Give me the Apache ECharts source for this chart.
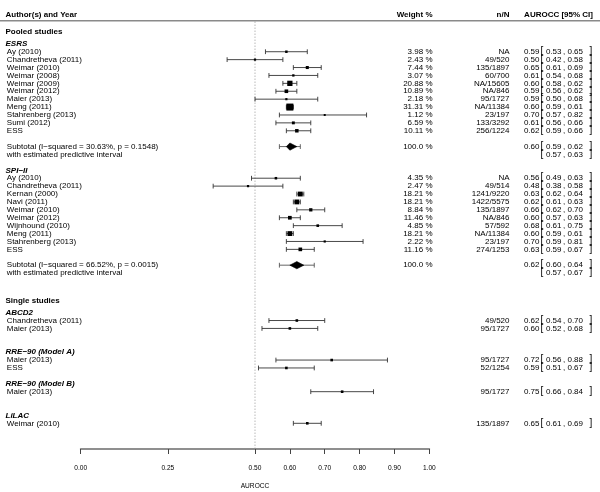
<!DOCTYPE html>
<html><head><meta charset="utf-8">
<script src="https://cdn.jsdelivr.net/npm/echarts@6/dist/echarts.min.js"></script>
<style>html,body{margin:0;padding:0;background:#fff}#c{width:600px;height:492px}</style>
</head><body><div id="c"></div>
<script>
// ---------------- DATA ----------------
const columnHeaders = ['Author(s) and Year', 'Weight %', 'n/N', 'AUROCC [95% CI]'];
const sectionLabels = ['Pooled studies', 'Single studies'];
const tickValues = [0, 0.25, 0.5, 0.6, 0.7, 0.8, 0.9, 1.0];
const axisTitle = 'AUROCC';

const esrsStudies = ['Ay (2010)', 'Chandretheva (2011)', 'Weimar (2010)', 'Weimar (2008)', 'Weimar (2009)', 'Weimar (2012)', 'Maier (2013)', 'Meng (2011)', 'Stahrenberg (2013)', 'Sumi (2012)', 'ESS'];
const esrsWeight = [3.98, 2.43, 7.44, 3.07, 20.88, 10.89, 2.18, 31.31, 1.12, 6.59, 10.11];
const esrsN = ['NA', '49/520', '135/1897', '60/700', 'NA/15605', 'NA/846', '95/1727', 'NA/11384', '23/197', '133/3292', '256/1224'];
const esrsEst = [0.59, 0.50, 0.65, 0.61, 0.60, 0.59, 0.59, 0.60, 0.70, 0.61, 0.62];
const esrsLo = [0.53, 0.42, 0.61, 0.54, 0.58, 0.56, 0.50, 0.59, 0.57, 0.56, 0.59];
const esrsHi = [0.65, 0.58, 0.69, 0.68, 0.62, 0.62, 0.68, 0.61, 0.82, 0.66, 0.66];
const esrsPooled = [0.60, 0.59, 0.62, 0.57, 0.63]; // est, lo, hi, PI lo, PI hi
const esrsHet = ['30.63%', '0.1548'];

const spiStudies = ['Ay (2010)', 'Chandretheva (2011)', 'Kernan (2000)', 'Navi (2011)', 'Weimar (2010)', 'Weimar (2012)', 'Wijnhound (2010)', 'Meng (2011)', 'Stahrenberg (2013)', 'ESS'];
const spiWeight = [4.35, 2.47, 18.21, 18.21, 8.84, 11.46, 4.85, 18.21, 2.22, 11.16];
const spiN = ['NA', '49/514', '1241/9220', '1422/5575', '135/1897', 'NA/846', '57/592', 'NA/11384', '23/197', '274/1253'];
const spiEst = [0.56, 0.48, 0.63, 0.62, 0.66, 0.60, 0.68, 0.60, 0.70, 0.63];
const spiLo = [0.49, 0.38, 0.62, 0.61, 0.62, 0.57, 0.61, 0.59, 0.59, 0.59];
const spiHi = [0.63, 0.58, 0.64, 0.63, 0.70, 0.63, 0.75, 0.61, 0.81, 0.67];
const spiPooled = [0.62, 0.60, 0.64, 0.57, 0.67];
const spiHet = ['66.52%', '0.0015'];

const singleGroups = ['ABCD2', 'RRE\u221290 (Model A)', 'RRE\u221290 (Model B)', 'LiLAC'];
const singleGroupOf = [0, 0, 1, 1, 2, 3];
const singleStudies = ['Chandretheva (2011)', 'Maier (2013)', 'Maier (2013)', 'ESS', 'Maier (2013)', 'Weimar (2010)'];
const singleN = ['49/520', '95/1727', '95/1727', '52/1254', '95/1727', '135/1897'];
const singleEst = [0.62, 0.60, 0.72, 0.59, 0.75, 0.65];
const singleLo = [0.54, 0.52, 0.56, 0.51, 0.66, 0.61];
const singleHi = [0.70, 0.68, 0.88, 0.67, 0.84, 0.69];

// ---------------- LAYOUT ----------------
const FONT = '"Liberation Sans", Arial, Helvetica, sans-serif';
const INK = '#000';
const rows = [];
rows.push({kind: 'colhead', row: 52.65});
rows.push({kind: 'section', row: 50.5, label: sectionLabels[0]});

function addPooled(start, name, studies, weight, nN, est, lo, hi, pooled, het) {
  let r = start;
  rows.push({kind: 'group', row: r, label: name});
  r -= 1;
  studies.forEach((s, i) => {
    rows.push({kind: 'study', row: r, label: s, w: weight[i], n: nN[i], est: est[i], lo: lo[i], hi: hi[i]});
    r -= 1;
  });
  r -= 1;
  rows.push({kind: 'subtotal', row: r, label: 'Subtotal (I\u2212squared = ' + het[0] + ', p = ' + het[1] + ')',
    est: pooled[0], lo: pooled[1], hi: pooled[2], piLo: pooled[3], piHi: pooled[4]});
  rows.push({kind: 'subtotal2', row: r - 1, label: 'with estimated predictive interval', lo: pooled[3], hi: pooled[4]});
  return r - 1;
}
let next = addPooled(49, 'ESRS', esrsStudies, esrsWeight, esrsN, esrsEst, esrsLo, esrsHi, esrsPooled, esrsHet);
next = addPooled(next - 2, 'SPI\u2212II', spiStudies, spiWeight, spiN, spiEst, spiLo, spiHi, spiPooled, spiHet);
rows.push({kind: 'section', row: next - 3.5, label: sectionLabels[1]});
let rr = next - 5;
const gapsAfter = [2, 1, 2, 0];
singleGroups.forEach((g, gi) => {
  rows.push({kind: 'group', row: rr, label: g});
  rr -= 1;
  singleStudies.forEach((s, i) => {
    if (singleGroupOf[i] === gi) {
      rows.push({kind: 'study', row: rr, label: s, w: null, n: singleN[i], est: singleEst[i], lo: singleLo[i], hi: singleHi[i]});
      rr -= 1;
    }
  });
  rr -= gapsAfter[gi];
});

const allW = esrsWeight.concat(spiWeight);
const wMin = Math.min(...allW), wMax = Math.max(...allW);
const sqSize = w => w == null ? 2.6 : 2 + 5 * (w - wMin) / (wMax - wMin);

function txt(x, y, text, o) {
  o = o || {};
  return {type: 'text', silent: true, style: {
    x: x, y: y, text: text, fill: o.fill || INK,
    fontFamily: FONT, fontSize: o.size || 8, fontWeight: o.weight || 'normal', fontStyle: o.style || 'normal',
    align: o.align || 'left', verticalAlign: 'middle'}};
}
function ciLine(api, lo, hi, row, color) {
  const a = api.coord([lo, row]), b = api.coord([hi, row]);
  const st = {stroke: color, lineWidth: 0.9};
  return [
    {type: 'line', shape: {x1: a[0], y1: a[1], x2: b[0], y2: b[1]}, style: st},
    {type: 'line', shape: {x1: a[0], y1: a[1] - 2.4, x2: a[0], y2: a[1] + 2.4}, style: st},
    {type: 'line', shape: {x1: b[0], y1: b[1] - 2.4, x2: b[0], y2: b[1] + 2.4}, style: st}
  ];
}
function ciText(y, est, lo, hi) {
  const out = [];
  if (est != null) out.push(txt(539.5, y, est.toFixed(2), {align: 'right'}));
  out.push(txt(540.5, y - 0.5, '[', {size: 10}));
  out.push(txt(561.5, y, lo.toFixed(2), {align: 'right'}));
  out.push(txt(563, y, ',', {}));
  out.push(txt(583, y, hi.toFixed(2), {align: 'right'}));
  out.push(txt(589.5, y - 0.5, ']', {size: 10}));
  return out;
}

function renderItem(params, api) {
  const rw = rows[api.value(2)];
  const y = api.coord([0, rw.row])[1];
  const ch = [];
  if (rw.kind === 'colhead') {
    ch.push(txt(5.5, y, columnHeaders[0], {weight: 'bold'}));
    ch.push(txt(432.5, y, columnHeaders[1], {weight: 'bold', align: 'right'}));
    ch.push(txt(509.5, y, columnHeaders[2], {weight: 'bold', align: 'right'}));
    ch.push(txt(593, y, columnHeaders[3], {weight: 'bold', align: 'right'}));
    const hl = api.coord([0, 51.92])[1];
    ch.push({type: 'line', shape: {x1: 0, y1: hl, x2: api.getWidth(), y2: hl}, style: {stroke: '#8a8a8a', lineWidth: 1.4}});
    const t = api.coord([0.5, 51.8]), b = api.coord([0.5, -2.25]);
    ch.push({type: 'line', shape: {x1: t[0], y1: t[1], x2: b[0], y2: b[1]}, style: {stroke: '#8a8a8a', lineWidth: 0.9, lineDash: [1, 2]}});
  } else if (rw.kind === 'section') {
    ch.push(txt(5.5, y, rw.label, {weight: 'bold'}));
  } else if (rw.kind === 'group') {
    ch.push(txt(5.5, y, rw.label, {weight: 'bold', style: 'italic'}));
  } else if (rw.kind === 'study') {
    ch.push(txt(6.8, y, rw.label));
    ch.push(...ciLine(api, rw.lo, rw.hi, rw.row, '#333'));
    const c = api.coord([rw.est, rw.row]);
    const s = sqSize(rw.w);
    ch.push({type: 'rect', shape: {x: c[0] - s / 2, y: c[1] - s / 2, width: s, height: s}, style: {fill: '#000'}});
    if (rw.w != null) ch.push(txt(432.5, y, rw.w.toFixed(2) + ' %', {align: 'right'}));
    ch.push(txt(509.5, y, rw.n, {align: 'right'}));
    ch.push(...ciText(y, rw.est, rw.lo, rw.hi));
  } else if (rw.kind === 'subtotal') {
    ch.push(txt(6.8, y, rw.label));
    ch.push(...ciLine(api, rw.piLo, rw.piHi, rw.row, '#555'));
    const l = api.coord([rw.lo, rw.row]), m = api.coord([rw.est, rw.row]), h = api.coord([rw.hi, rw.row]);
    ch.push({type: 'polygon', shape: {points: [[l[0], l[1]], [m[0], m[1] - 3.6], [h[0], h[1]], [m[0], m[1] + 3.6]]}, style: {fill: '#000', stroke: '#000', lineWidth: 0.6}});
    ch.push(txt(432.5, y, '100.0 %', {align: 'right'}));
    ch.push(...ciText(y, rw.est, rw.lo, rw.hi));
  } else if (rw.kind === 'subtotal2') {
    ch.push(txt(6.8, y, rw.label));
    ch.push(...ciText(y, null, rw.lo, rw.hi));
  }
  return {type: 'group', children: ch};
}

const chart = echarts.init(document.getElementById('c'), null, {renderer: 'canvas'});
chart.setOption({
  animation: false,
  backgroundColor: '#fff',
  grid: {left: 80.7, width: 348.6, top: 12.19, bottom: 43, containLabel: false, outerBoundsMode: 'none'},
  xAxis: {
    type: 'value', min: 0, max: 1, position: 'bottom',
    axisLine: {show: true, onZero: false, lineStyle: {color: '#8f8f8f', width: 1.8}},
    axisTick: {show: true, inside: false, length: 5, customValues: tickValues, lineStyle: {color: '#444', width: 1}},
    axisLabel: {customValues: tickValues, formatter: v => v.toFixed(2), fontFamily: FONT, fontSize: 6.6, color: INK, margin: 16},
    splitLine: {show: false},
    name: axisTitle, nameLocation: 'middle', nameGap: 34,
    nameTextStyle: {fontFamily: FONT, fontSize: 6.6, color: INK}
  },
  yAxis: {type: 'value', min: -2.25, max: 53, show: false},
  series: [{
    type: 'custom', clip: false, silent: true,
    encode: {x: 0, y: 1},
    data: rows.map((rw, i) => [rw.est != null ? rw.est : 0.5, rw.row, i]),
    renderItem: renderItem
  }]
});
</script></body></html>
